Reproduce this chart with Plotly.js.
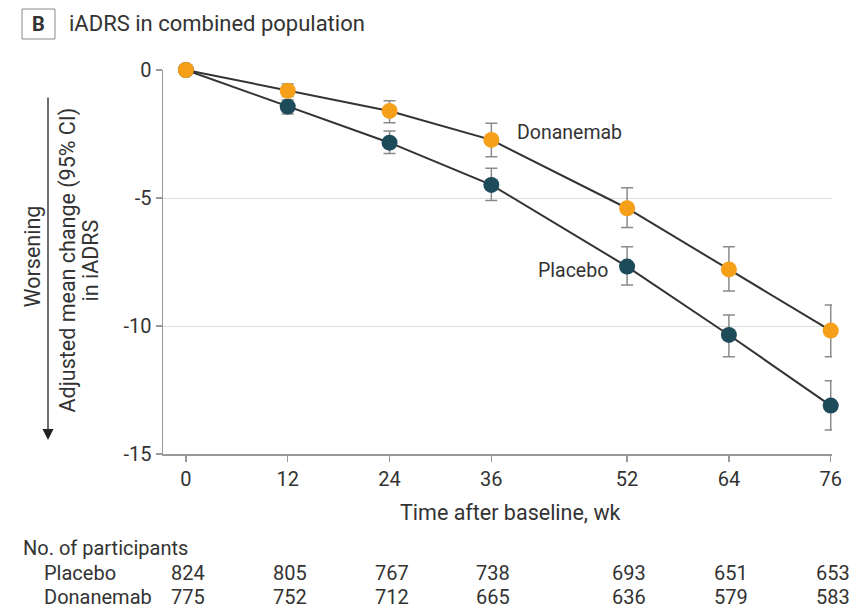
<!DOCTYPE html>
<html>
<head>
<meta charset="utf-8">
<script src="https://cdn.plot.ly/plotly-3.0.1.min.js"></script>
<style>html,body{margin:0;padding:0;background:#fff;}#chart{width:856px;height:608px;}</style>
</head>
<body>
<div id="chart"></div>
<script>
// ---- data ----
const weeks = [0, 12, 24, 36, 52, 64, 76];
const weekTickLabels = ['0', '12', '24', '36', '52', '64', '76'];
const yTickValues = [0, -5, -10, -15];
const yTickLabels = ['0', '-5', '-10', '-15'];

const placeboMean  = [0, -1.43, -2.84, -4.49, -7.68, -10.35, -13.11];
const placeboLower = [0, -1.72, -3.26, -5.10, -8.40, -11.20, -14.06];
const placeboUpper = [0, -1.17, -2.38, -3.84, -6.90, -9.57, -12.14];

const donanemabMean  = [0, -0.81, -1.60, -2.73, -5.40, -7.79, -10.18];
const donanemabLower = [0, -1.04, -2.06, -3.39, -6.15, -8.63, -11.20];
const donanemabUpper = [0, -0.55, -1.20, -2.08, -4.60, -6.90, -9.18];

const placeboN   = [824, 805, 767, 738, 693, 651, 653];
const donanemabN = [775, 752, 712, 665, 636, 579, 583];

// ---- layout geometry ----
const W = 856, H = 608;
const M = {l: 163, r: 24, t: 70, b: 154};
const plotW = W - M.l - M.r, plotH = H - M.t - M.b;
const px = v => (v - M.l) / plotW;          // pixel x -> paper x
const py = v => (H - M.b - v) / plotH;      // pixel y -> paper y

const FONT = 'Roboto, "Noto Sans", sans-serif';
const TXT = '#333333';
const ORANGE = '#F6A01A';
const TEAL = '#1E4B5A';

const upErr = (m, u) => u.map((v, i) => v - m[i]);
const dnErr = (m, l) => l.map((v, i) => m[i] - v);

function trace(name, mean, lower, upper, color) {
  return {
    type: 'scatter', mode: 'lines+markers', name: name,
    x: weeks, y: mean, cliponaxis: false,
    line: {color: '#333333', width: 2},
    marker: {color: color, size: 16, line: {width: 0}},
    error_y: {type: 'data', symmetric: false,
      array: upErr(mean, upper), arrayminus: dnErr(mean, lower),
      color: '#8a8a8a', thickness: 1.5, width: 6}
  };
}

const data = [
  trace('Placebo', placeboMean, placeboLower, placeboUpper, TEAL),
  trace('Donanemab', donanemabMean, donanemabLower, donanemabUpper, ORANGE)
];

const ann = [];
const txt = (text, x, y, opts) => Object.assign({
  text: text, x: x, y: y, xref: 'paper', yref: 'paper', showarrow: false,
  font: {family: FONT, size: 20, color: TXT}, xanchor: 'center', yanchor: 'middle'
}, opts || {});

// title
ann.push(txt('<b>B</b>', px(38.5), py(24), {font: {family: FONT, size: 20, color: TXT}}));
ann.push(txt('iADRS in combined population', px(67), py(24), {xanchor: 'left', font: {family: FONT, size: 22, color: TXT}}));
// y-axis titles
ann.push(txt('Adjusted mean change (95% CI)', px(67), py(260.5), {textangle: -90, font: {family: FONT, size: 21.5, color: TXT}}));
ann.push(txt('in iADRS', px(90), py(260.5), {textangle: -90, font: {family: FONT, size: 21.5, color: TXT}}));
ann.push(txt('Worsening', px(32), py(256.5), {textangle: -90, font: {family: FONT, size: 21.5, color: TXT}}));
// arrow
ann.push({x: px(48), y: py(440), xref: 'paper', yref: 'paper', text: '', showarrow: true,
  ax: 0, ay: -(440 - 96), arrowhead: 2, arrowsize: 1.7, arrowwidth: 1.3, arrowcolor: '#222', standoff: 0});
// x-axis title
ann.push(txt('Time after baseline, wk', px(510), py(512), {font: {family: FONT, size: 21.5, color: TXT}}));
// series labels
ann.push(txt('Donanemab', 38.8, -2.45, {xref: 'x', yref: 'y', xanchor: 'left', font: {family: FONT, size: 19.5, color: TXT}}));
ann.push(txt('Placebo', 50.0, -7.85, {xref: 'x', yref: 'y', xanchor: 'right', font: {family: FONT, size: 19.5, color: TXT}}));
// participants table
ann.push(txt('No. of participants', px(21), py(548), {xanchor: 'left'}));
ann.push(txt('Placebo', px(42), py(573), {xanchor: 'left'}));
ann.push(txt('Donanemab', px(42), py(597), {xanchor: 'left'}));
weeks.forEach((w, i) => {
  ann.push(txt(String(placeboN[i]), w, py(573), {xref: 'x', xshift: 2}));
  ann.push(txt(String(donanemabN[i]), w, py(597), {xref: 'x', xshift: 2}));
});

const layout = {
  width: W, height: H, margin: M,
  paper_bgcolor: '#ffffff', plot_bgcolor: '#ffffff',
  showlegend: false,
  font: {family: FONT, size: 20, color: TXT},
  xaxis: {
    range: [-2.7, 76.15], tickvals: weeks, ticktext: weekTickLabels,
    ticks: 'outside', ticklen: 6, tickcolor: '#999', tickwidth: 1.2,
    showgrid: false, zeroline: false, showline: true, linecolor: '#999', linewidth: 1.5,
    tickfont: {family: FONT, size: 20, color: TXT}
  },
  yaxis: {
    range: [-15, 0], tickvals: yTickValues, ticktext: yTickLabels,
    ticks: 'outside', ticklen: 6, tickcolor: '#999', tickwidth: 1.2,
    showgrid: true, gridcolor: '#dddddd', gridwidth: 1, zeroline: false,
    showline: true, linecolor: '#999', linewidth: 1.5,
    tickfont: {family: FONT, size: 20, color: TXT}
  },
  shapes: [{type: 'rect', xref: 'paper', yref: 'paper',
    x0: px(22), x1: px(55), y0: py(39), y1: py(9),
    line: {color: '#8a8a8a', width: 1}, fillcolor: 'rgba(0,0,0,0)'}],
  annotations: ann
};

Plotly.newPlot('chart', data, layout, {displayModeBar: false, staticPlot: true});
</script>
</body>
</html>
